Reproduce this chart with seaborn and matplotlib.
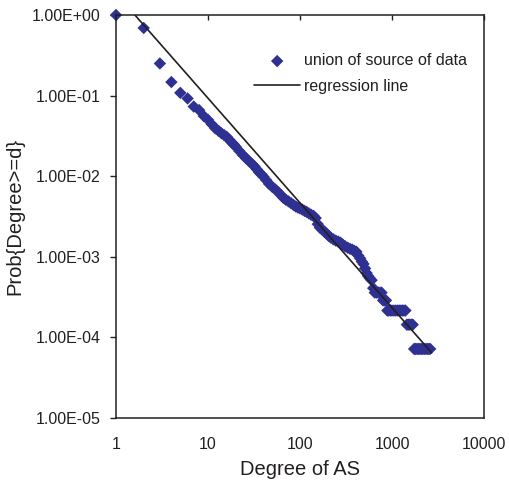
import matplotlib
matplotlib.use("Agg")
import matplotlib.pyplot as plt
import matplotlib.ticker as mticker
import seaborn as sns
import pandas as pd

# ---- data ----
degree = [1, 2, 3, 4, 5, 6, 7, 8, 9, 10, 11, 12, 13, 14, 15, 16, 17, 18, 19, 20,
          22, 24, 26, 28, 30, 32, 34, 36, 38, 40, 43, 46, 50, 54, 58, 62, 66, 70,
          75, 80, 85, 90, 95, 100, 106, 112, 118, 125, 132, 140, 148, 156, 165,
          175, 185, 195, 205, 215, 230, 245, 260, 275, 290, 310, 330, 350, 370,
          390, 410, 430, 450, 470, 490, 510, 530, 550, 575, 600, 625,
          650, 680, 710, 740, 770,
          800, 830, 860,
          890, 920, 960, 1000, 1050, 1100, 1150, 1200, 1250, 1300, 1350, 1400,
          1450, 1500, 1560, 1620, 1680,
          1740, 1800, 1870, 1940, 2010, 2090, 2170, 2250, 2340, 2430, 2520, 2600]
prob = [1.0, 0.69, 0.25, 0.147, 0.108, 0.092, 0.073, 0.066, 0.0556, 0.0500,
        0.0439, 0.0391, 0.0365, 0.0340, 0.0322, 0.0307, 0.0283, 0.0263, 0.0248, 0.0232,
        0.0204, 0.0182, 0.0166, 0.0153, 0.0142, 0.0132, 0.0121, 0.0111, 0.0105, 0.00986,
        0.00889, 0.00802, 0.00734, 0.00682, 0.00630, 0.00582, 0.00536, 0.00509,
        0.00485, 0.00461, 0.00438, 0.00419, 0.00406, 0.00397, 0.00384, 0.00370,
        0.00359, 0.00344, 0.00331, 0.00321, 0.00301, 0.00253, 0.00228,
        0.00215, 0.00204, 0.00192, 0.00181, 0.00173, 0.00164, 0.00158, 0.00154,
        0.00149, 0.00142, 0.00134, 0.00129, 0.00125, 0.00122,
        0.00118, 0.00115, 0.00103, 0.000953, 0.000869, 0.000811, 0.000713,
        0.000625, 0.000574, 0.000537, 0.000510, 0.000406,
        0.000357, 0.000357, 0.000357, 0.000357, 0.000357,
        0.000286, 0.000286, 0.000286,
        0.000214, 0.000214, 0.000214, 0.000214, 0.000214, 0.000214, 0.000214,
        0.000214, 0.000214, 0.000214, 0.000214, 0.000214,
        0.000143, 0.000143, 0.000143, 0.000143, 0.000143,
        7.14e-05, 7.14e-05, 7.14e-05, 7.14e-05, 7.14e-05, 7.14e-05, 7.14e-05,
        7.14e-05, 7.14e-05, 7.14e-05, 7.14e-05, 7.14e-05]

reg_degree = [1, 2700]
reg_prob = [1.85, 6.4e-05]

x_ticks = [1, 10, 100, 1000, 10000]
x_tick_labels = ["1", "10", "100", "1000", "10000"]
y_ticks = [1e-5, 1e-4, 1e-3, 1e-2, 1e-1, 1e0]
y_tick_labels = ["1.00E-05", "1.00E-04", "1.00E-03", "1.00E-02", "1.00E-01", "1.00E+00"]

series_label = "union of source of data"
line_label = "regression line"
x_label = "Degree of AS"
y_label = "Prob{Degree>=d}"

# ---- styling ----
sns.set_theme(style="white")
plt.rcParams["font.family"] = ["Liberation Sans", "DejaVu Sans"]
ink = "#231f20"
navy = "#2e3192"

pts = pd.DataFrame({"degree": degree, "prob": prob})
reg = pd.DataFrame({"degree": reg_degree, "prob": reg_prob})

fig = plt.figure(figsize=(5.09, 4.8), dpi=100)
ax = fig.add_axes([116 / 509, 1 - 417.7 / 480, 368 / 509, 402.7 / 480])

sns.scatterplot(data=pts, x="degree", y="prob", marker="D", s=40, color=navy,
                edgecolor="none", linewidth=0, ax=ax, label=series_label,
                zorder=2, clip_on=False)
sns.lineplot(data=reg, x="degree", y="prob", color=ink, linewidth=1.2, ax=ax,
             label=line_label, zorder=3)

ax.set_xscale("log")
ax.set_yscale("log")
ax.set_xlim(1, 10000)
ax.set_ylim(1e-5, 1)

ax.xaxis.set_major_locator(mticker.FixedLocator(x_ticks))
ax.xaxis.set_major_formatter(mticker.FixedFormatter(x_tick_labels))
ax.yaxis.set_major_locator(mticker.FixedLocator(y_ticks))
ax.yaxis.set_major_formatter(mticker.FixedFormatter(y_tick_labels))
ax.xaxis.set_minor_locator(mticker.NullLocator())
ax.yaxis.set_minor_locator(mticker.NullLocator())

for sp in ax.spines.values():
    sp.set_visible(True)
    sp.set_color(ink)
    sp.set_linewidth(1.1)

ax.tick_params(axis="x", which="major", bottom=False, top=True, labelbottom=True,
               labeltop=False, direction="in", length=3.8, width=1.0, color=ink,
               pad=14, labelsize=11.5, labelcolor=ink)
ax.tick_params(axis="y", which="major", left=True, right=False, direction="out",
               length=4.3, width=1.0, color=ink, pad=7, labelsize=11.5,
               labelcolor=ink)

ax.set_xlabel(x_label, fontsize=14.5, color=ink, labelpad=6)
ax.set_ylabel(y_label, fontsize=14.5, color=ink, labelpad=5)

ax.legend(loc="upper left", bbox_to_anchor=(0.375, 0.905), frameon=False,
          borderpad=0, borderaxespad=0, handlelength=2.9, handletextpad=0.2,
          labelspacing=0.65, fontsize=11.5, labelcolor=ink, scatterpoints=1)

fig.savefig("out.png", dpi=100, facecolor="white")
